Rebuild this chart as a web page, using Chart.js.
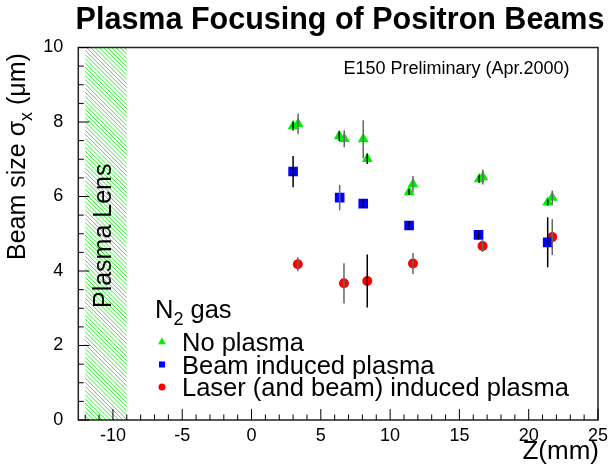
<!DOCTYPE html>
<html>
<head>
<meta charset="utf-8">
<script src="https://cdn.jsdelivr.net/npm/chart.js@4.4.0/dist/chart.umd.min.js"></script>
<style>
  body { margin: 0; background: #fff; }
  #wrap { width: 613px; height: 464px; }
</style>
</head>
<body>
<div id="wrap"><canvas id="chart"></canvas></div>
<script>
// E150 beam size vs. z position
const noPlasmaZ     = [3.0, 3.36, 6.33, 6.69, 8.06, 8.35, 11.37, 11.65, 16.43, 16.69, 21.37, 21.7];
const noPlasmaSigma = [7.89, 7.95, 7.62, 7.55, 7.54, 7.01, 6.12, 6.33, 6.47, 6.52, 5.84, 5.97];
const noPlasmaErr   = [0.12, 0.28, 0.13, 0.23, 0.51, 0.14, 0.08, 0.22, 0.10, 0.20, 0.08, 0.19];

const beamZ     = [3.0, 6.36, 8.06, 11.37, 16.38, 21.37];
const beamSigma = [6.67, 5.97, 5.81, 5.22, 4.97, 4.77];
const beamErr   = [0.42, 0.34, 0.12, 0.12, 0.12, 0.67];

const laserZ     = [3.34, 6.67, 8.35, 11.65, 16.67, 21.7];
const laserSigma = [4.18, 3.67, 3.73, 4.20, 4.67, 4.91];
const laserErr   = [0.19, 0.54, 0.71, 0.28, 0.16, 0.48];

const seriesNames = ['No plasma', 'Beam induced plasma', 'Laser (and beam) induced plasma'];
const xTickValues = [-10, -5, 0, 5, 10, 15, 20, 25];
const yTickValues = [0, 2, 4, 6, 8, 10];
const lensZ = [-12, -9];   // hatched plasma lens region

const FONT = '"Liberation Sans", Arial, Helvetica, sans-serif';
const BLK = '#000', GRY = '#666';

function pts(zs, ys) { return zs.map((z, i) => ({ x: z, y: ys[i] })); }

const decor = {
    id: 'decor',
    beforeDatasetsDraw(chart) {
        const { ctx, chartArea: a, scales: { x } } = chart;
        const x0 = x.getPixelForValue(lensZ[0]), x1 = x.getPixelForValue(lensZ[1]);
        ctx.save();
        ctx.beginPath();
        ctx.rect(x0, a.top, x1 - x0, a.bottom - a.top);
        ctx.clip();
        ctx.strokeStyle = '#33ee33';
        ctx.lineWidth = 1;
        const h = a.bottom - a.top;
        for (let s = x0 - h; s < x1; s += 4.2) {
            ctx.beginPath();
            ctx.moveTo(s, a.top);
            ctx.lineTo(s + h, a.bottom);
            ctx.stroke();
        }
        ctx.restore();

        // Plasma Lens label
        ctx.save();
        ctx.translate((x0 + x1) / 2 + 5, (a.top + a.bottom) / 2 + 2);
        ctx.rotate(-Math.PI / 2);
        ctx.font = '25px ' + FONT;
        ctx.fillStyle = '#000';
        ctx.textAlign = 'center';
        ctx.textBaseline = 'alphabetic';
        ctx.fillText('Plasma Lens', 0, 0);
        ctx.restore();
    },
    afterDatasetsDraw(chart) {
        const { ctx, chartArea: a, scales: { x, y } } = chart;

        // error bars on top of markers
        chart.data.datasets.forEach(ds => {
            ds.data.forEach((p, i) => {
                const px = x.getPixelForValue(p.x);
                ctx.beginPath();
                ctx.strokeStyle = ds.barColors[i];
                ctx.lineWidth = 1.5;
                ctx.moveTo(px, y.getPixelForValue(p.y - ds.errors[i]));
                ctx.lineTo(px, y.getPixelForValue(p.y + ds.errors[i]));
                ctx.stroke();
            });
        });

        // frame
        ctx.save();
        ctx.lineWidth = 1.5;
        ctx.strokeStyle = '#222';
        ctx.strokeRect(a.left, a.top, a.right - a.left, a.bottom - a.top);

        // ticks pointing inwards
        ctx.lineWidth = 1;
        ctx.strokeStyle = '#000';
        for (let v = -12; v <= 25; v++) {
            const px = x.getPixelForValue(v);
            const len = v % 5 === 0 ? 11 : 5.5;
            ctx.beginPath();
            ctx.moveTo(px, a.bottom);
            ctx.lineTo(px, a.bottom - len);
            ctx.stroke();
        }
        for (let v = 0; v <= 10; v += 0.5) {
            const py = y.getPixelForValue(v);
            const len = v % 2 === 0 ? 11 : 5.5;
            ctx.beginPath();
            ctx.moveTo(a.left, py);
            ctx.lineTo(a.left + len, py);
            ctx.stroke();
        }
        ctx.restore();

        ctx.save();
        ctx.fillStyle = '#000';
        // title
        ctx.font = 'bold 30.5px ' + FONT;
        ctx.textAlign = 'center';
        ctx.fillText('Plasma Focusing of Positron Beams', 340, 29);

        ctx.font = '18px ' + FONT;
        ctx.fillText('E150 Preliminary (Apr.2000)', 456.5, 74);

        // x title
        ctx.font = '26px ' + FONT;
        ctx.textAlign = 'right';
        ctx.fillText('Z(mm)', 599, 459);

        // y title with subscript
        ctx.save();
        ctx.translate(25, 260);
        ctx.rotate(-Math.PI / 2);
        ctx.textAlign = 'left';
        ctx.font = '25px ' + FONT;
        const t1 = 'Beam size \u03c3';
        ctx.fillText(t1, 0, 0);
        let w = ctx.measureText(t1).width;
        ctx.font = '18px ' + FONT;
        ctx.fillText('x', w, 7);
        w += ctx.measureText('x').width;
        ctx.font = '25px ' + FONT;
        ctx.fillText(' (\u03bcm)', w, 0);
        ctx.restore();

        // legend
        ctx.textAlign = 'left';
        ctx.font = '25.5px ' + FONT;
        ctx.fillText('N', 155, 318);
        let nw = ctx.measureText('N').width;
        ctx.font = '18px ' + FONT;
        ctx.fillText('2', 155 + nw, 325);
        nw += ctx.measureText('2').width;
        ctx.font = '25.5px ' + FONT;
        ctx.fillText(' gas', 155 + nw, 318);

        const rows = [351, 373.5, 396];
        chart.data.datasets.forEach((ds, i) => {
            ctx.fillStyle = ds.backgroundColor;
            Chart.helpers.drawPoint(ctx, {
                pointStyle: ds.pointStyle, rotation: 0,
                radius: ds.legendRadius, borderWidth: 0
            }, 162, rows[i] - 9);
            ctx.fillStyle = '#000';
            ctx.font = '25.5px ' + FONT;
            ctx.fillText(seriesNames[i], 182, rows[i]);
        });
        ctx.restore();
    }
};

new Chart(document.getElementById('chart'), {
    type: 'scatter',
    data: {
        datasets: [
            {
                label: seriesNames[0], data: pts(noPlasmaZ, noPlasmaSigma), errors: noPlasmaErr,
                barColors: [BLK, GRY, BLK, GRY, GRY, BLK, BLK, GRY, BLK, GRY, BLK, GRY],
                pointStyle: 'triangle', pointRadius: 6.3, legendRadius: 4.5,
                backgroundColor: '#00ee00', borderColor: '#00ee00', borderWidth: 0
            },
            {
                label: seriesNames[1], data: pts(beamZ, beamSigma), errors: beamErr,
                barColors: [BLK, GRY, BLK, BLK, BLK, BLK],
                pointStyle: 'rect', pointRadius: 6.8, legendRadius: 4.3,
                backgroundColor: '#0000ff', borderColor: '#0000ff', borderWidth: 0
            },
            {
                label: seriesNames[2], data: pts(laserZ, laserSigma), errors: laserErr,
                barColors: [GRY, GRY, BLK, GRY, GRY, GRY],
                pointStyle: 'circle', pointRadius: 5, legendRadius: 3.5,
                backgroundColor: '#ff0000', borderColor: '#ff0000', borderWidth: 0
            }
        ]
    },
    options: {
        responsive: true,
        maintainAspectRatio: false,
        animation: false,
        events: [],
        layout: { padding: { left: 0, top: 47.5, right: 13, bottom: 0 } },
        plugins: { legend: { display: false }, tooltip: { enabled: false }, title: { display: false } },
        scales: {
            x: {
                type: 'linear', min: -12.5, max: 25,
                afterBuildTicks: s => { s.ticks = xTickValues.map(v => ({ value: v })); },
                afterFit: s => { s.height = 44; },
                grid: { display: false, drawTicks: false },
                border: { display: false },
                ticks: { color: '#000', padding: 5, font: { family: FONT, size: 18 }, maxRotation: 0 }
            },
            y: {
                type: 'linear', min: 0, max: 10,
                afterBuildTicks: s => { s.ticks = yTickValues.map(v => ({ value: v })); },
                afterFit: s => { s.width = 78.3; },
                grid: { display: false, drawTicks: false },
                border: { display: false },
                ticks: { color: '#000', padding: 15, font: { family: FONT, size: 18 } }
            }
        }
    },
    plugins: [decor]
});
</script>
</body>
</html>
